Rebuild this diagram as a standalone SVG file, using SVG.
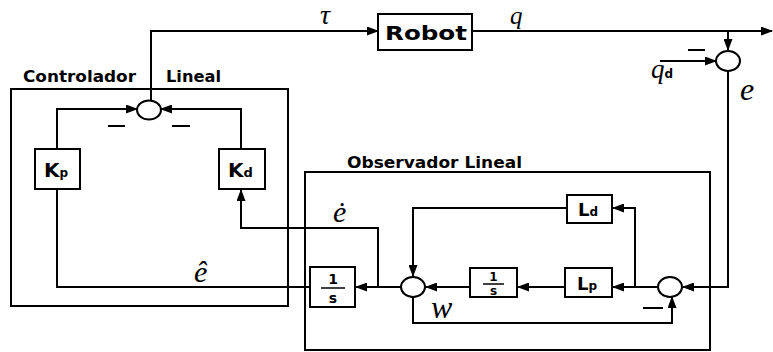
<svg xmlns="http://www.w3.org/2000/svg" width="773" height="352" viewBox="0 0 773 352">
<defs>
<marker id="arr" markerWidth="12" markerHeight="9" refX="11" refY="4.5" orient="auto" markerUnits="userSpaceOnUse">
<path d="M0,0 L12,4.5 L0,9 z" fill="#000"/>
</marker>
</defs>
<style>
.blk{fill:#fff;stroke:#000;stroke-width:2}
.frame{fill:none;stroke:#000;stroke-width:2}
.sum{fill:#fff;stroke:#000;stroke-width:2}
.wire{fill:none;stroke:#000;stroke-width:2;marker-end:url(#arr)}
.plain{fill:none;stroke:#000;stroke-width:2}
.lbl{font-family:"DejaVu Sans","Liberation Sans",sans-serif;font-weight:bold;fill:#000}
.math{font-family:"Liberation Serif","DejaVu Serif",serif;font-style:italic;fill:#000}
.minus{stroke:#000;stroke-width:2}
</style>
<rect width="773" height="352" fill="#fff"/>

<g id="frames">
<rect x="11" y="89" width="277" height="217" class="frame"/>
<rect x="305" y="172" width="405" height="178" class="frame"/>
<text x="23" y="82" class="lbl" font-size="15" textLength="113" lengthAdjust="spacingAndGlyphs">Controlador</text>
<text x="166" y="82" class="lbl" font-size="15" textLength="55" lengthAdjust="spacingAndGlyphs">Lineal</text>
<text x="347" y="168" class="lbl" font-size="15" textLength="175" lengthAdjust="spacingAndGlyphs">Observador Lineal</text>
</g>

<g id="connectors">
<path d="M151,100 V31 H378" class="wire"/>
<path d="M472,31 H772" class="wire"/>
<path d="M728,31 V50" class="wire"/>
<path d="M660,61 H716" class="wire"/>
<path d="M728,71 V287 H683" class="wire"/>
<path d="M658,287 H613" class="wire"/>
<path d="M635,287 V208 H613" class="wire"/>
<path d="M567,208 H413 V276" class="wire"/>
<path d="M565,287 H518" class="wire"/>
<path d="M470,287 H426" class="wire"/>
<path d="M413,297 V323 H672 V297" class="wire"/>
<path d="M401,287 H356" class="wire"/>
<path d="M378,287 V228 H241 V190" class="wire"/>
<path d="M310,287 H57 V189" class="plain"/>
<path d="M57,149 V109 H137" class="wire"/>
<path d="M241,149 V109 H161" class="wire"/>
</g>

<g id="robot">
<rect x="378" y="14" width="94" height="36" class="blk"/>
<text x="385" y="40" class="lbl" font-size="20" textLength="82" lengthAdjust="spacingAndGlyphs">Robot</text>
</g>

<g id="sumC">
<ellipse cx="149" cy="110" rx="12" ry="9.5" class="sum"/>
<line x1="108" y1="126" x2="125" y2="126" class="minus"/>
<line x1="172" y1="126" x2="190" y2="126" class="minus"/>
</g>

<g id="Kp">
<rect x="35" y="149" width="45" height="40" class="blk"/>
<text x="44" y="177" class="lbl" font-size="20">K<tspan font-size="12">p</tspan></text>
</g>

<g id="Kd">
<rect x="219" y="149" width="46" height="40" class="blk"/>
<text x="228" y="177" class="lbl" font-size="20">K<tspan font-size="13">d</tspan></text>
</g>

<g id="sumE">
<ellipse cx="728" cy="61" rx="12" ry="10" class="sum"/>
<line x1="688" y1="50" x2="705" y2="50" class="minus"/>
</g>

<g id="Ld">
<rect x="567" y="195" width="45" height="28" class="blk"/>
<text x="578" y="216" class="lbl" font-size="18">L<tspan font-size="12">d</tspan></text>
</g>

<g id="Lp">
<rect x="565" y="268" width="47" height="29" class="blk"/>
<text x="577" y="290" class="lbl" font-size="18">L<tspan font-size="12">p</tspan></text>
</g>

<g id="int1">
<rect x="470" y="268" width="47" height="29" class="blk"/>
<text x="493.5" y="281" class="lbl" font-size="12" text-anchor="middle">1</text>
<line x1="483" y1="284" x2="504" y2="284" stroke="#000" stroke-width="1.5"/>
<text x="493.5" y="295" class="lbl" font-size="12" text-anchor="middle">s</text>
</g>

<g id="int2">
<rect x="310" y="267" width="45" height="40" class="blk"/>
<text x="333" y="284" class="lbl" font-size="14" text-anchor="middle">1</text>
<line x1="321" y1="288" x2="345" y2="288" stroke="#000" stroke-width="1.5"/>
<text x="333" y="303" class="lbl" font-size="14" text-anchor="middle">s</text>
</g>

<g id="sumO1">
<ellipse cx="413" cy="287" rx="12" ry="10" class="sum"/>
</g>

<g id="sumO2">
<ellipse cx="670" cy="287" rx="12" ry="10" class="sum"/>
<line x1="643" y1="308" x2="663" y2="308" class="minus"/>
</g>

<g id="labels">
<text x="320" y="24" class="math" font-size="28">τ</text>
<text x="510" y="24" class="math" font-size="25">q</text>
<text x="651" y="78" class="math" font-size="27">q<tspan font-size="12" font-style="normal" font-weight="bold" font-family="DejaVu Sans,sans-serif">d</tspan></text>
<text x="740" y="100" class="math" font-size="32">e</text>
<text x="194" y="282" class="math" font-size="30">ê</text>
<text x="333" y="222" class="math" font-size="30">ė</text>
<text x="431" y="318" class="math" font-size="32">w</text>
</g>
</svg>
